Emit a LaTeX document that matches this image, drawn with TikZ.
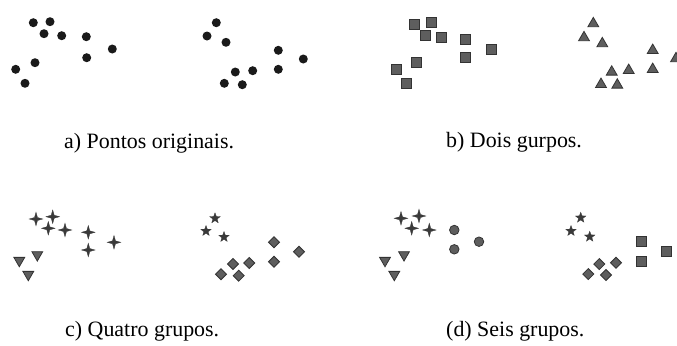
\documentclass[tikz,border=0pt]{standalone}
\usepackage{fontspec}
\setmainfont{Liberation Serif}
\newfontfamily\capfont{Liberation Serif}
\usetikzlibrary{shapes.geometric}
\definecolor{inkdark}{HTML}{1A1A1A}
\definecolor{markfill}{HTML}{5E5E5E}
\definecolor{markedge}{HTML}{333333}
\definecolor{starfill}{HTML}{3A3A3A}
\tikzset{
  mk/.style={inner sep=0pt, outer sep=0pt},
  dotm/.style={mk, circle, fill=inkdark, minimum size=9bp},
  sqm/.style={mk, rectangle, fill=markfill, draw=markedge, line width=1bp, minimum size=10bp},
  trim/.style={mk, regular polygon, regular polygon sides=3, fill=markfill, draw=markedge, line width=0.8bp, minimum size=12.5bp},
  itrim/.style={trim, shape border rotate=180},
  circm/.style={mk, circle, fill=markfill, draw=markedge, line width=0.8bp, minimum size=9.5bp},
  diam/.style={mk, diamond, fill=markfill, draw=markedge, line width=0.8bp, minimum size=11bp},
  captext/.style={anchor=base west, inner sep=0pt, font=\capfont\fontsize{22}{26}\selectfont},
  % four-pointed star marker
  pics/fourpt/.style={code={
    \fill[starfill, draw=starfill, line width=0.3bp, line join=miter]
      (6.8,0) -- (1.5,1.5) -- (0,6.8) -- (-1.5,1.5) -- (-6.8,0)
      -- (-1.5,-1.5) -- (0,-6.8) -- (1.5,-1.5) -- cycle;}},
  % five-pointed star marker, point up
  pics/fivept/.style={code={
    \fill[starfill, draw=starfill, line width=0.3bp]
      (0,-5.5) -- (1.352,-1.861) -- (5.231,-1.700) -- (2.187,0.711)
      -- (3.233,4.450) -- (0,2.3) -- (-3.233,4.450) -- (-2.187,0.711)
      -- (-5.231,-1.700) -- (-1.352,-1.861) -- cycle;}}
}
\begin{document}
\begin{tikzpicture}[x=1bp, y=-1bp]
\useasboundingbox (0,0) rectangle (677,345);
\clip (0,0) rectangle (677,345);

% a) original points
\foreach \p [count=\i] in {(33.3,22.7),(50,21.7),(44,33.7),(61.7,35.7),(86.3,36.7),(112.3,49),(86.7,57.7),(35,62.7),(15.7,69.3),(25,83.3),
  (216.3,22.7),(207,36),(226,42.3),(278.3,50.3),(303.3,59),(278.3,69.3),(235.3,72),(252.7,70.7),(224.3,83.3),(242.3,84.7)}
  \node[dotm] (a\i) at \p {};

% b) two groups
\foreach \p [count=\i] in {(414,24.3),(431,22.3),(425,35.7),(441.7,37),(465.7,39),(491.7,49.3),(465.7,57.7),(416,62.7),(396.7,69),(406,83.3)}
  \node[sqm] (bs\i) at \p {};
\foreach \p [count=\i] in {(593.3,23.6),(584,37.6),(602.3,43.6),(652.7,50.3),(676,58.6),(652.7,69.3),(611.7,72),(628.7,70.3),(601,84.3),(617.3,85)}
  \node[trim] (bt\i) at \p {};

% c) four groups
\foreach \p [count=\i] in {(36,219),(52.7,216.7),(48.3,228.3),(65,230),(88.3,232.3),(114,242.3),(88.3,250)}
  \pic (cp\i) at \p {fourpt};
\foreach \p [count=\i] in {(37.3,254.8),(19.3,260.5),(28.3,274.5)}
  \node[itrim] (ct\i) at \p {};
\foreach \p [count=\i] in {(215,218.3),(206,231),(224,237)}
  \pic (cs\i) at \p {fivept};
\foreach \p [count=\i] in {(274,242.3),(299,251.7),(274,261.7),(249.3,263),(233,264),(221,274.3),(238.7,275.7)}
  \node[diam] (cd\i) at \p {};

% d) six groups
\foreach \p [count=\i] in {(401,218.3),(419,216),(411.7,228.3),(429.3,230)}
  \pic (dp\i) at \p {fourpt};
\foreach \p [count=\i] in {(454.3,230),(479,241.7),(454.3,249.3)}
  \node[circm] (dc\i) at \p {};
\foreach \p [count=\i] in {(404,254.8),(385,260.5),(394.3,274.5)}
  \node[itrim] (dt\i) at \p {};
\foreach \p [count=\i] in {(580.7,217.7),(571,231),(589.7,236.7)}
  \pic (ds\i) at \p {fivept};
\foreach \p [count=\i] in {(641,241.7),(666,251),(641,261)}
  \node[sqm] (dq\i) at \p {};
\foreach \p [count=\i] in {(616,262.7),(599.3,264),(588.3,274),(606,275)}
  \node[diam] (dd\i) at \p {};

% captions
\node[captext] (capa) at (64,148.3) {a) Pontos originais.};
\node[captext] (capb) at (446,147.7) {b) Dois gurpos.};
\node[captext] (capc) at (65,336.7) {c) Quatro grupos.};
\node[captext] (capd) at (446,336.7) {(d) Seis grupos.};
\end{tikzpicture}
\end{document}
